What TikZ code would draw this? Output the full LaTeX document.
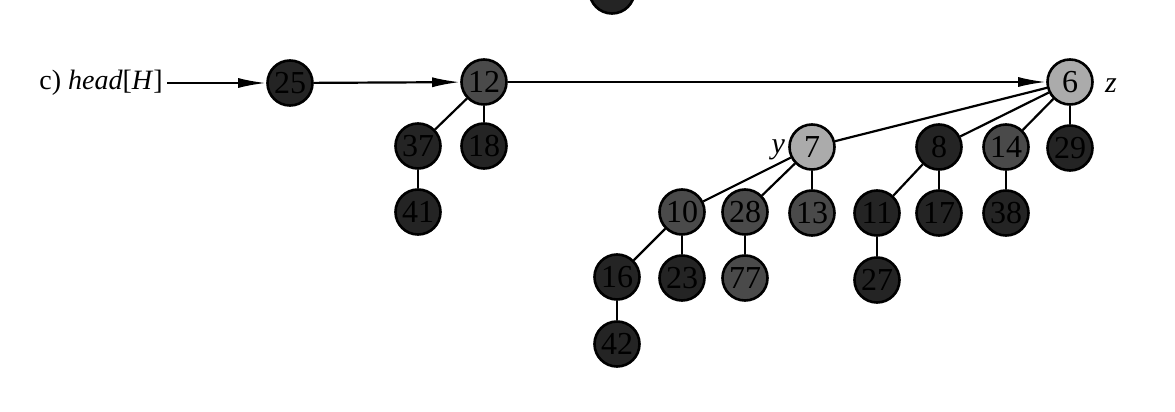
\documentclass[tikz,border=0pt]{standalone}
\usepackage{fontspec}
\setmainfont{Liberation Serif}
\usetikzlibrary{arrows.meta}
\definecolor{ltfill}{HTML}{ABABAB}
\definecolor{dkfill}{HTML}{242424}
\definecolor{dmfill}{HTML}{4A4A4A}
\begin{document}
\begin{tikzpicture}[x=0.5pt,y=-0.5pt,
  hnode/.style={circle, draw=black, line width=1.3pt, minimum size=22.5pt, inner sep=0pt,
    font=\fontsize{16}{18}\selectfont},
  dk/.style={hnode, fill=dkfill, text=black},
  dm/.style={hnode, fill=dmfill, text=black},
  lt/.style={hnode, fill=ltfill, text=black},
  edge/.style={line width=1.1pt},
  ptr/.style={line width=1.1pt, -{Latex[length=14pt,width=5pt]}},
  lbl/.style={font=\fontsize{15}{17}\selectfont\itshape}
]
\useasboundingbox (0,0) rectangle (1175,412);
\fill[white] (0,0) rectangle (1175,412);
\begin{scope}
  \clip (0,0) rectangle (1175,412);
  \node[dk] (prev) at (612,-9) {};
\end{scope}

\node[anchor=west, inner sep=2pt, font=\fontsize{14}{16}\selectfont] (head) at (35,83) {c) \textit{head}[\textit{H}]};

% roots
\node[dk] (n25) at (290,83) {25};
\node[dm] (n12) at (484,82) {12};
\node[lt] (n6) at (1070,82) {6};
\node[lbl, anchor=west] (zl) at (1098,86) {z};

% tree of 12
\node[dk] (n37) at (418,146) {37};
\node[dk] (n18) at (484,146) {18};
\node[dk] (n41) at (418,212) {41};

% tree of 6
\node[lt] (n7) at (812,147) {7};
\node[lbl, anchor=east] (yl) at (792,150) {y};
\node[dk] (n8) at (939,147) {8};
\node[dm] (n14) at (1006,147) {14};
\node[dk] (n29) at (1070,148) {29};
\node[dm] (n10) at (682,212) {10};
\node[dm] (n28) at (745,212) {28};
\node[dm] (n13) at (812,213) {13};
\node[dk] (n11) at (877,213) {11};
\node[dk] (n17) at (939,213) {17};
\node[dk] (n38) at (1006,213) {38};
\node[dk] (n16) at (617,277) {16};
\node[dk] (n23) at (682,278) {23};
\node[dm] (n77) at (745,278) {77};
\node[dk] (n27) at (877,280) {27};
\node[dk] (n42) at (617,344) {42};

% root list pointers
\draw[ptr] (head.east) -- (n25);
\draw[ptr] (n25) -- (n12);
\draw[ptr] (n12) -- (n6);

% edges
\draw[edge] (n12) -- (n37);
\draw[edge] (n12) -- (n18);
\draw[edge] (n37) -- (n41);
\draw[edge] (n6) -- (n7);
\draw[edge] (n6) -- (n8);
\draw[edge] (n6) -- (n14);
\draw[edge] (n6) -- (n29);
\draw[edge] (n7) -- (n10);
\draw[edge] (n7) -- (n28);
\draw[edge] (n7) -- (n13);
\draw[edge] (n10) -- (n16);
\draw[edge] (n10) -- (n23);
\draw[edge] (n16) -- (n42);
\draw[edge] (n28) -- (n77);
\draw[edge] (n8) -- (n11);
\draw[edge] (n8) -- (n17);
\draw[edge] (n11) -- (n27);
\draw[edge] (n14) -- (n38);
\end{tikzpicture}
\end{document}
